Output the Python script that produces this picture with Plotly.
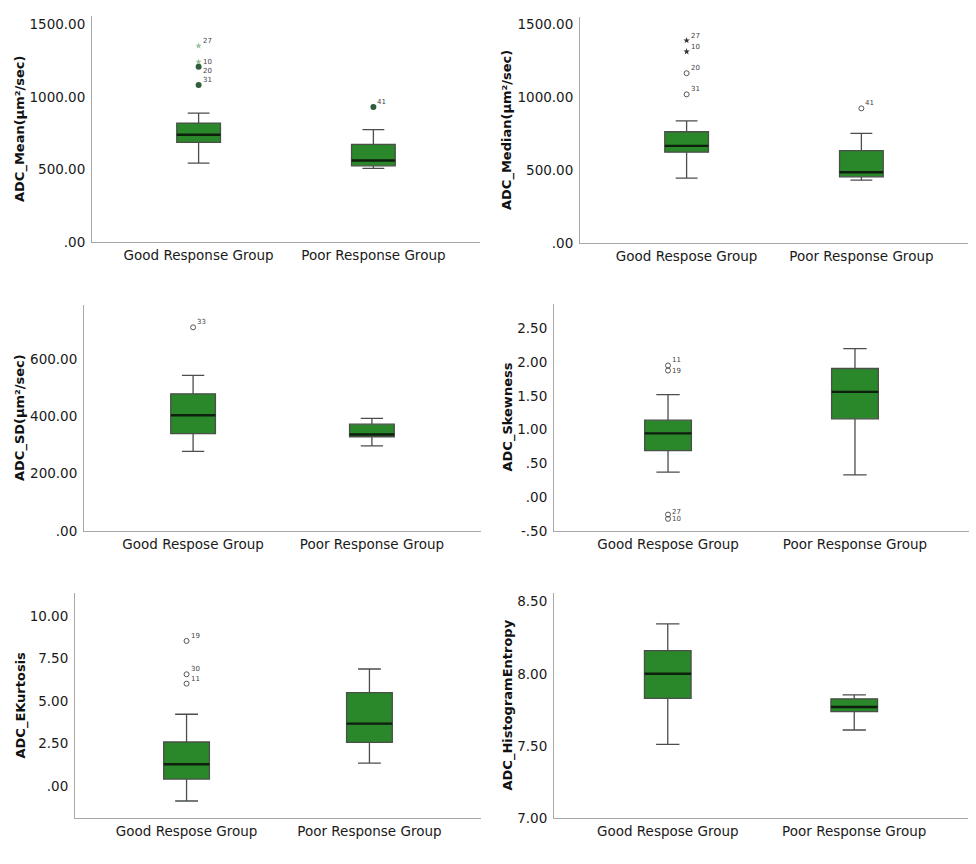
import plotly.graph_objects as go

W, H = 976, 864

# ---------------- data ----------------
groups_top = ["Good Response Group", "Poor Response Group"]
groups_mid = ["Good Respose Group", "Poor Response Group"]
groups_top_right = ["Good Respose Group", "Poor Response Group"]

titles = ["ADC_Mean(μm²/sec)", "ADC_Median(μm²/sec)", "ADC_SD(μm²/sec)",
          "ADC_Skewness", "ADC_EKurtosis", "ADC_HistogramEntropy"]

# box statistics [Good, Poor]
mean_low = [545, 508];   mean_q1 = [688, 526];   mean_med = [740, 563];   mean_q3 = [821, 674];   mean_high = [890, 775]
median_low = [444, 430]; median_q1 = [622, 453]; median_med = [665, 485]; median_q3 = [762, 633]; median_high = [837, 751]
sd_low = [278, 297];     sd_q1 = [340, 329];     sd_med = [404, 337];     sd_q3 = [479, 373];     sd_high = [543, 393]
skew_low = [0.37, 0.33]; skew_q1 = [0.69, 1.16]; skew_med = [0.945, 1.56]; skew_q3 = [1.14, 1.905]; skew_high = [1.52, 2.20]
kurt_low = [-0.88, 1.35]; kurt_q1 = [0.41, 2.57]; kurt_med = [1.28, 3.67]; kurt_q3 = [2.59, 5.49]; kurt_high = [4.22, 6.88]
ent_low = [7.51, 7.61];  ent_q1 = [7.83, 7.738]; ent_med = [8.00, 7.77];  ent_q3 = [8.16, 7.826]; ent_high = [8.346, 7.854]

# outliers: group index, value, case label, marker kind
mean_out_grp = [0, 0, 0, 0, 1]
mean_out_val = [1354, 1243, 1209, 1083, 931]
mean_out_lab = ["27", "10", "20", "31", "41"]
mean_out_kind = ["star_light", "star_light", "dot", "dot", "dot"]

median_out_grp = [0, 0, 0, 0, 1]
median_out_val = [1387, 1311, 1163, 1018, 922]
median_out_lab = ["27", "10", "20", "31", "41"]
median_out_kind = ["star", "star", "open", "open", "open"]

sd_out_grp = [0]
sd_out_val = [711]
sd_out_lab = ["33"]
sd_out_kind = ["open"]

skew_out_grp = [0, 0, 0, 0]
skew_out_val = [1.95, 1.875, -0.257, -0.32]
skew_out_lab = ["11", "19", "27", "10"]
skew_out_kind = ["open", "open", "open", "open"]

kurt_out_grp = [0, 0, 0]
kurt_out_val = [8.53, 6.57, 6.02]
kurt_out_lab = ["19", "30", "11"]
kurt_out_kind = ["open", "open", "open"]

ent_out_grp = []
ent_out_val = []
ent_out_lab = []
ent_out_kind = []

# tick labels
mean_ticks = [0, 500, 1000, 1500];  mean_ticklab = [".00", "500.00", "1000.00", "1500.00"]
median_ticks = [0, 500, 1000, 1500]; median_ticklab = [".00", "500.00", "1000.00", "1500.00"]
sd_ticks = [0, 200, 400, 600];      sd_ticklab = [".00", "200.00", "400.00", "600.00"]
skew_ticks = [-0.5, 0, 0.5, 1.0, 1.5, 2.0, 2.5]; skew_ticklab = ["-.50", ".00", ".50", "1.00", "1.50", "2.00", "2.50"]
kurt_ticks = [0, 2.5, 5, 7.5, 10];  kurt_ticklab = [".00", "2.50", "5.00", "7.50", "10.00"]
ent_ticks = [7.0, 7.5, 8.0, 8.5];   ent_ticklab = ["7.00", "7.50", "8.00", "8.50"]

# ---------------- style: label placement relative to marker ----------------
label_place = {
    (0, "20"): "down",
    (0, "10"): "mid",
    (3, "19"): "mid",
    (3, "10"): "mid",
    (3, "27"): "upmid",
}

# ---------------- layout of panels (pixels) ----------------
panels = [
    dict(px=(92, 480), py=(16, 242), yr=[0, 1560], cats=groups_top,
         stats=(mean_low, mean_q1, mean_med, mean_q3, mean_high),
         out=(mean_out_grp, mean_out_val, mean_out_lab, mean_out_kind),
         ticks=(mean_ticks, mean_ticklab), title=titles[0], tx=20),
    dict(px=(580, 968), py=(17, 243), yr=[0, 1548], cats=groups_top_right,
         stats=(median_low, median_q1, median_med, median_q3, median_high),
         out=(median_out_grp, median_out_val, median_out_lab, median_out_kind),
         ticks=(median_ticks, median_ticklab), title=titles[1], tx=507),
    dict(px=(84, 481), py=(305, 531), yr=[0, 789], cats=groups_mid,
         stats=(sd_low, sd_q1, sd_med, sd_q3, sd_high),
         out=(sd_out_grp, sd_out_val, sd_out_lab, sd_out_kind),
         ticks=(sd_ticks, sd_ticklab), title=titles[2], tx=20),
    dict(px=(554, 969), py=(304, 531), yr=[-0.5, 2.86], cats=groups_mid,
         stats=(skew_low, skew_q1, skew_med, skew_q3, skew_high),
         out=(skew_out_grp, skew_out_val, skew_out_lab, skew_out_kind),
         ticks=(skew_ticks, skew_ticklab), title=titles[3], tx=507),
    dict(px=(75, 481), py=(593, 818), yr=[-1.88, 11.35], cats=groups_mid,
         stats=(kurt_low, kurt_q1, kurt_med, kurt_q3, kurt_high),
         out=(kurt_out_grp, kurt_out_val, kurt_out_lab, kurt_out_kind),
         ticks=(kurt_ticks, kurt_ticklab), title=titles[4], tx=20),
    dict(px=(554, 968), py=(593, 818), yr=[7.0, 8.56], cats=groups_mid,
         stats=(ent_low, ent_q1, ent_med, ent_q3, ent_high),
         out=(ent_out_grp, ent_out_val, ent_out_lab, ent_out_kind),
         ticks=(ent_ticks, ent_ticklab), title=titles[5], tx=507),
]

BOX_W = 0.25
FILL = "#2A872A"
FONT = "DejaVu Sans"

marker_styles = {
    "open": dict(symbol="circle-open", size=5, color="#555555", line=dict(width=1, color="#555555")),
    "dot": dict(symbol="circle", size=6, color="#2F5E3A"),
    "star": dict(symbol="star", size=5, color="#333333"),
    "star_light": dict(symbol="star", size=5, color="#9CC49C"),
}

fig = go.Figure()
layout = {}
annotations = []

for i, p in enumerate(panels):
    n = "" if i == 0 else str(i + 1)
    xa, ya = "x" + n, "y" + n
    low, q1, med, q3, high = p["stats"]
    xs = list(range(len(p["cats"])))
    fig.add_trace(go.Box(
        x=xs, q1=q1, median=med, q3=q3, lowerfence=low, upperfence=high,
        width=BOX_W, whiskerwidth=0.5, fillcolor=FILL,
        line=dict(color="#4A4F4A", width=1.3), boxpoints=False,
        xaxis=xa, yaxis=ya, showlegend=False, hoverinfo="skip"))
    # thicker dark median lines
    for g, m in zip(xs, med):
        fig.add_trace(go.Scatter(
            x=[g - BOX_W / 2, g + BOX_W / 2], y=[m, m], mode="lines",
            line=dict(color="#0E1F0E", width=2.4), xaxis=xa, yaxis=ya,
            showlegend=False, hoverinfo="skip"))
    og, ov, ol, ok = p["out"]
    for g, v, lab, kind in zip(og, ov, ol, ok):
        fig.add_trace(go.Scatter(
            x=[g], y=[v], mode="markers", marker=marker_styles[kind],
            xaxis=xa, yaxis=ya, showlegend=False, hoverinfo="skip"))
        place = label_place.get((i, lab), "up")
        ys = {"up": 5, "upmid": 3, "mid": 0, "down": -4}[place]
        annotations.append(dict(
            x=g, y=v, xref=xa, yref=ya, text=lab, showarrow=False,
            xanchor="left", yanchor="middle", xshift=2, yshift=ys,
            font=dict(size=7, color="#444444", family=FONT)))
    x0, x1 = p["px"]
    y0, y1 = p["py"]
    layout["xaxis" + n] = dict(
        domain=[x0 / W, x1 / W], range=[-0.61, 1.61], anchor=ya,
        tickvals=xs, ticktext=p["cats"], showgrid=False, zeroline=False,
        showline=True, linecolor="#A8A8A8", linewidth=1, ticks="",
        automargin=False, ticklabelstandoff=1,
        tickfont=dict(size=13.5, color="#1A1A1A", family=FONT), fixedrange=True)
    layout["yaxis" + n] = dict(
        domain=[1 - y1 / H, 1 - y0 / H], range=p["yr"], anchor=xa,
        tickvals=p["ticks"][0], ticktext=p["ticks"][1], showgrid=False,
        zeroline=False, showline=True, linecolor="#A8A8A8", linewidth=1,
        ticks="", ticklabelstandoff=3, automargin=False,
        tickfont=dict(size=13.5, color="#1A1A1A", family=FONT), fixedrange=True)
    annotations.append(dict(
        x=p["tx"] / W, y=1 - (y0 + y1) / 2 / H, xref="paper", yref="paper",
        text="<b>" + p["title"] + "</b>", textangle=-90, showarrow=False,
        xanchor="center", yanchor="middle",
        font=dict(size=13, color="#111111", family=FONT)))

fig.update_layout(
    width=W, height=H, margin=dict(l=0, r=0, t=0, b=0),
    paper_bgcolor="white", plot_bgcolor="white",
    annotations=annotations, **layout)

fig.write_html("out.html", config={"displayModeBar": False},
               post_script="document.body.style.margin='0';document.body.style.overflow='hidden';")
